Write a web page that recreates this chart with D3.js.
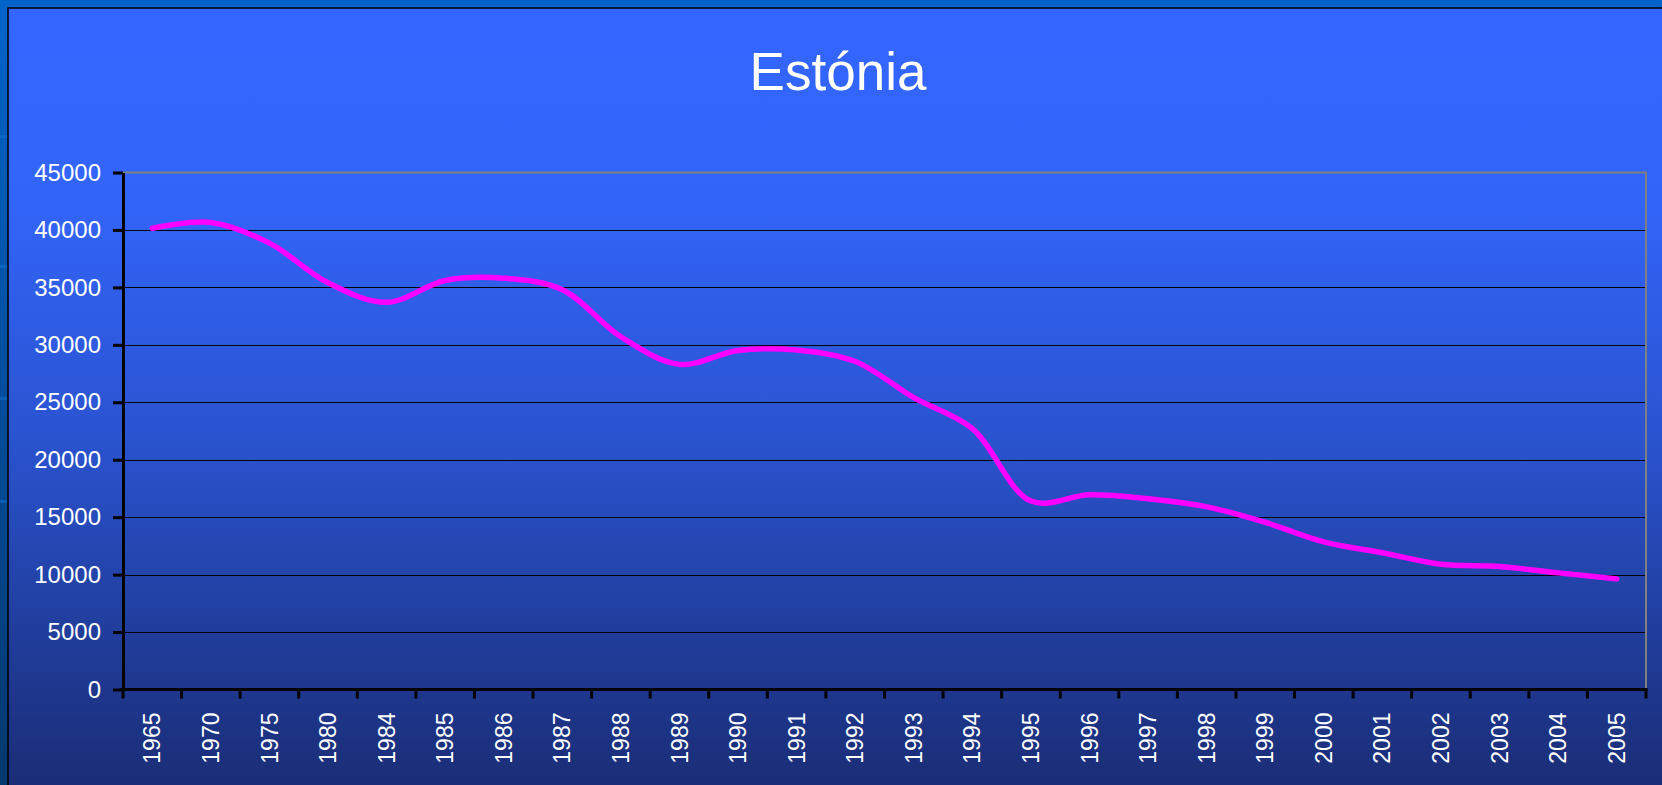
<!DOCTYPE html>
<html>
<head>
<meta charset="utf-8">
<script src="https://cdn.jsdelivr.net/npm/d3@7"></script>
<style>
  body { margin: 0; background: #0062c6; }
  svg { display: block; font-family: "Liberation Sans", Arial, sans-serif; }
</style>
</head>
<body>
<svg width="1662" height="785"></svg>
<script>
const years = ["1965", "1970", "1975", "1980", "1984", "1985", "1986", "1987", "1988", "1989",
  "1990", "1991", "1992", "1993", "1994", "1995", "1996", "1997", "1998", "1999",
  "2000", "2001", "2002", "2003", "2004", "2005"];
const values = [40150, 40650, 38850, 35400, 33700, 35600, 35800, 34800, 30700, 28300,
  29500, 29550, 28550, 25400, 22700, 16400, 16950, 16600, 15900, 14550,
  12850, 11900, 10900, 10700, 10150, 9630];
const yTicks = [0, 5000, 10000, 15000, 20000, 25000, 30000, 35000, 40000, 45000];
const title = "Estónia";

const svg = d3.select("svg");
const W = 1662, H = 785;

// backdrop gradient
const defs = svg.append("defs");
const grad = defs.append("linearGradient").attr("id", "bg")
  .attr("x1", 0).attr("y1", 0).attr("x2", 0).attr("y2", 1);
[[0, "#3366ff"], [0.25, "#3264f8"], [0.55, "#2a53cf"], [0.78, "#213f9f"], [1, "#1a2c74"]]
  .forEach(s => grad.append("stop").attr("offset", s[0]).attr("stop-color", s[1]));

const side = defs.append("linearGradient").attr("id", "side")
  .attr("x1", 0).attr("y1", 0).attr("x2", 0).attr("y2", 1);
side.append("stop").attr("offset", 0).attr("stop-color", "#0064cb");
side.append("stop").attr("offset", 1).attr("stop-color", "#00386e");

svg.append("rect").attr("width", W).attr("height", H).attr("fill", "url(#side)");
[135, 265, 397, 500].forEach(yy => {
  svg.append("rect").attr("x", 0).attr("y", yy).attr("width", 8).attr("height", 3)
    .attr("fill", "#1a7ad8").attr("opacity", 0.4);
});
svg.append("rect").attr("x", 8).attr("y", 8).attr("width", W).attr("height", H)
  .attr("fill", "url(#bg)").attr("stroke", "#000").attr("stroke-width", 1.5);

const plotLeft = 123, plotRight = 1646, plotTop = 172.5, plotBottom = 689.5;

const x = d3.scaleBand().domain(years).range([plotLeft, plotRight]);
const y = d3.scaleLinear().domain([0, 45000]).range([plotBottom, plotTop]);

// title
svg.append("text")
  .attr("x", 838).attr("y", 90)
  .attr("text-anchor", "middle")
  .attr("fill", "#fff")
  .attr("font-size", 53)
  .text(title);

// gridlines
svg.append("g").selectAll("line")
  .data(yTicks.filter(v => v > 0 && v < 45000))
  .enter().append("line")
  .attr("x1", plotLeft).attr("x2", plotRight)
  .attr("y1", d => Math.round(y(d)) + 0.5).attr("y2", d => Math.round(y(d)) + 0.5)
  .attr("stroke", "#000").attr("stroke-width", 1.2);

// plot border (top + right)
svg.append("path")
  .attr("d", `M${plotLeft},${plotTop}H${plotRight}V${plotBottom}`)
  .attr("fill", "none").attr("stroke", "#808080").attr("stroke-width", 2);

// line
const line = d3.line()
  .x((d, i) => x(years[i]) + x.bandwidth() / 2)
  .y(d => y(d))
  .curve(d3.curveCatmullRom.alpha(0.5));

svg.append("path")
  .datum(values)
  .attr("d", line)
  .attr("fill", "none")
  .attr("stroke", "#ff00ff")
  .attr("stroke-width", 5.5)
  .attr("stroke-linecap", "round")
  .attr("stroke-linejoin", "round");

// y axis
const yAxis = svg.append("g")
  .attr("transform", `translate(${plotLeft},0)`)
  .call(d3.axisLeft(y).tickValues(yTicks).tickFormat(d3.format("d"))
    .tickSize(10).tickPadding(12).tickSizeOuter(0));
yAxis.select(".domain").attr("stroke", "#000").attr("stroke-width", 3);
yAxis.selectAll(".tick line").attr("stroke", "#000").attr("stroke-width", 3);
yAxis.selectAll(".tick text")
  .attr("fill", "#fff").attr("font-size", 24)
  .attr("font-family", "'Liberation Sans', Arial, sans-serif");

// x axis labels
const xAxis = svg.append("g")
  .attr("transform", `translate(0,${plotBottom})`)
  .call(d3.axisBottom(x).tickSize(0).tickSizeOuter(0));
xAxis.select(".domain").remove();
xAxis.selectAll(".tick text")
  .attr("fill", "#fff").attr("font-size", 23)
  .attr("font-family", "'Liberation Sans', Arial, sans-serif")
  .attr("text-anchor", "end")
  .attr("transform", "rotate(-90)")
  .attr("x", -23).attr("y", 0).attr("dy", "0.35em");

// x axis line + boundary ticks
svg.append("line")
  .attr("x1", plotLeft - 3).attr("x2", plotRight + 1.5)
  .attr("y1", plotBottom).attr("y2", plotBottom)
  .attr("stroke", "#000").attr("stroke-width", 3);
svg.append("g").selectAll("line")
  .data(years.map(d => x(d)).concat([plotRight]))
  .enter().append("line")
  .attr("x1", d => d).attr("x2", d => d)
  .attr("y1", plotBottom).attr("y2", plotBottom + 9)
  .attr("stroke", "#000").attr("stroke-width", 3);
</script>
</body>
</html>
